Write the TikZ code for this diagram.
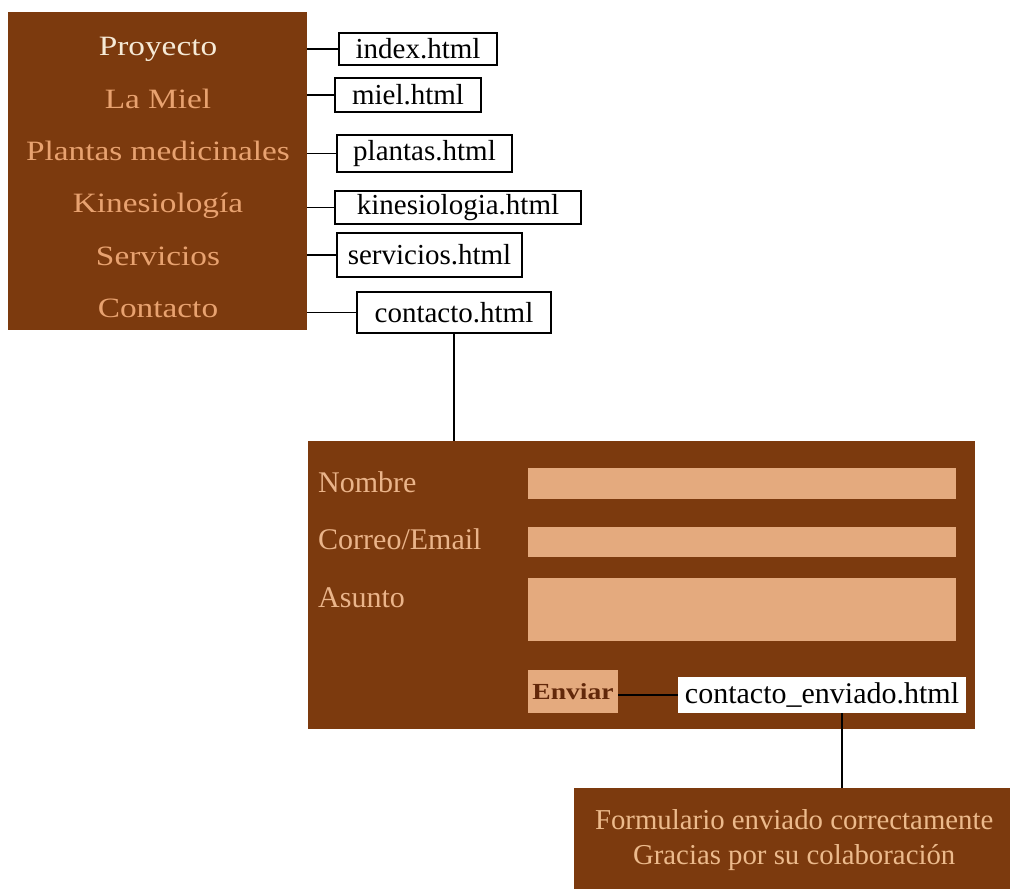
\documentclass[tikz,border=0pt]{standalone}
\usepackage{fontspec}
\setmainfont{Liberation Serif}
\newfontfamily\menufont[FakeStretch=1.19]{Liberation Serif}
\newfontfamily\envfont[FakeStretch=1.2]{Liberation Serif}
\definecolor{bx}{RGB}{124,58,14}
\definecolor{menutxt}{RGB}{232,162,112}
\definecolor{menutop}{RGB}{246,234,214}
\definecolor{fieldc}{RGB}{228,170,126}
\definecolor{labtxt}{RGB}{234,180,138}
\definecolor{envtxt}{RGB}{98,40,10}
\definecolor{bottxt}{RGB}{236,186,140}
\tikzset{
  panel/.style={fill=bx, draw=none, inner sep=0pt, anchor=north west},
  menuitem/.style={font=\menufont\fontsize{28}{30}\selectfont, text=menutxt, inner sep=0pt, anchor=base},
  linkbox/.style={draw=black, line width=1.5pt, fill=white, inner sep=0pt, font=\fontsize{29}{30}\selectfont},
  conn/.style={draw=black, line width=1.6pt},
  fieldbox/.style={fill=fieldc, draw=none, inner sep=0pt, anchor=north west},
  formlab/.style={font=\fontsize{30}{32}\selectfont, text=labtxt, inner sep=0pt, anchor=base west}
}
\begin{document}
\begin{tikzpicture}[x=1pt,y=-1pt]
\useasboundingbox (0,0) rectangle (1010,889);
\fill[white] (0,0) rectangle (1010,889);

% menu panel
\node[panel, minimum width=299pt, minimum height=318pt] (menu) at (8,12) {};
\node[menuitem, text=menutop] (m1) at (158,55) {Proyecto};
\node[menuitem] (m2) at (158,108) {La Miel};
\node[menuitem] (m3) at (158,160) {Plantas medicinales};
\node[menuitem] (m4) at (158,212) {Kinesiología};
\node[menuitem] (m5) at (158,265) {Servicios};
\node[menuitem] (m6) at (158,317) {Contacto};

% link boxes
\node[linkbox, minimum width=158pt, minimum height=32pt] (idx) at (418,49) {index.html};
\node[linkbox, minimum width=146pt, minimum height=34pt] (mie) at (408,95) {miel.html};
\node[linkbox, minimum width=175pt, minimum height=37pt] (pla) at (424.5,153.5) {plantas.html};
\node[linkbox, minimum width=246pt, minimum height=33pt] (kin) at (458,207.5) {kinesiologia.html};
\node[linkbox, minimum width=185pt, minimum height=44pt] (ser) at (429.5,255) {servicios.html};
\node[linkbox, minimum width=194pt, minimum height=41pt] (cto) at (454,312.5) {contacto.html};

\draw[conn] (idx.west) -- (idx.west -| menu.east);
\draw[conn] (mie.west) -- (mie.west -| menu.east);
\draw[conn] (pla.west) -- (pla.west -| menu.east);
\draw[conn] (kin.west) -- (kin.west -| menu.east);
\draw[conn] (ser.west) -- (ser.west -| menu.east);
\draw[conn] (cto.west) -- (cto.west -| menu.east);

% form panel
\node[panel, minimum width=667pt, minimum height=288pt] (form) at (308,441) {};
\draw[conn] (cto.south) -- (cto.south |- form.north);

\node[fieldbox, minimum width=428pt, minimum height=31pt] (f1) at (528,468) {};
\node[fieldbox, minimum width=428pt, minimum height=30pt] (f2) at (528,527) {};
\node[fieldbox, minimum width=428pt, minimum height=63pt] (f3) at (528,578) {};
\node[formlab] (l1) at (318,492) {Nombre};
\node[formlab] (l2) at (318,549) {Correo/Email};
\node[formlab] (l3) at (318,607) {Asunto};

\node[fill=fieldc, inner sep=0pt, minimum width=90pt, minimum height=43pt,
      font=\envfont\bfseries\fontsize{23}{24}\selectfont, text=envtxt] (env) at (573,691.5) {Enviar};
\node[fill=white, inner sep=0pt, minimum width=288pt, minimum height=36pt,
      font=\fontsize{30}{32}\selectfont] (ce) at (822,695) {contacto\_enviado.html};
\draw[conn] (env.east |- ce.west) -- (ce.west);

% bottom panel
\node[panel, minimum width=440pt, minimum height=103pt, text=bottxt, align=center,
      font=\fontsize{28.8}{35}\selectfont] (bot) at (574,788)
      {Formulario enviado correctamente\\Gracias por su colaboración};
\coordinate (cedrop) at ([xshift=20pt]ce.south);
\draw[conn] (cedrop) -- (cedrop |- bot.north);
\end{tikzpicture}
\end{document}
